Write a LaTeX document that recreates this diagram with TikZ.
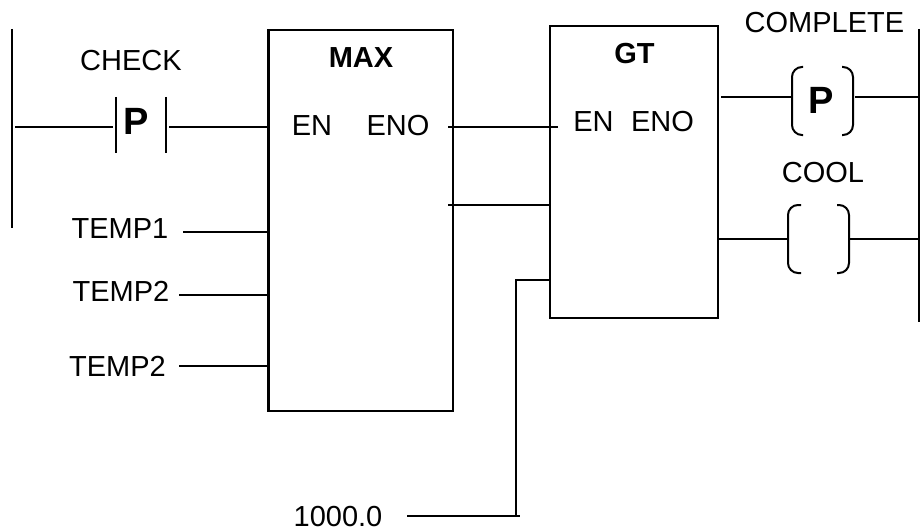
\documentclass[tikz,border=0pt]{standalone}
\usepackage{fontspec}
\setmainfont{Liberation Sans}
\begin{document}
\begin{tikzpicture}[x=1pt,y=-1pt,
  wire/.style={line width=2pt,black},
  thick line/.style={line width=2.6pt,black},
  lbl/.style={font=\fontsize{29}{32}\selectfont,inner sep=0pt,anchor=center},
  blbl/.style={font=\fontsize{29}{32}\selectfont\bfseries,inner sep=0pt,anchor=center},
  bigp/.style={font=\fontsize{38}{42}\selectfont\bfseries,inner sep=0pt,anchor=center},
  fblock/.style={draw,line width=2.4pt,inner sep=0pt}]
\useasboundingbox (0,0) rectangle (920,532);
\fill[white] (0,0) rectangle (920,532);
% rails
\coordinate (railLt) at (12,29); \coordinate (railLb) at (12,228);
\coordinate (railRt) at (919,29); \coordinate (railRb) at (919,322);
\draw[thick line] (railLt) -- (railLb);
\draw[thick line] (railRt) -- (railRb);
% blocks
\node[fblock,minimum width=184.4pt,minimum height=381pt] (max) at (360.6,220.5) {};
\node[fblock,minimum width=168pt,minimum height=292pt] (gt) at (633.7,172) {};
\node[blbl] (maxT) at (361,58) {MAX};
\node[blbl] (gtT) at (634.5,54) {GT};
\node[lbl] (en1) at (312,125.5) {EN};
\node[lbl] (eno1) at (398,125.5) {ENO};
\node[lbl] (en2) at (593.5,121.5) {EN};
\node[lbl] (eno2) at (662.5,121.5) {ENO};
% contact
\node[lbl] (check) at (131,60.5) {CHECK};
\node[bigp] (p1) at (136.5,121.5) {P};
\coordinate (c1l) at (116,127); \coordinate (c1r) at (166,127);
\draw[wire] (116,97) -- (c1l) -- (116,153);
\draw[wire] (166,97) -- (c1r) -- (166,153);
\coordinate (w1a) at (15,127); \coordinate (w1b) at (113,127);
\coordinate (w1c) at (169,127); \coordinate (w1d) at (268,127);
\draw[wire] (w1a) -- (w1b);
\draw[wire] (w1c) -- (w1d);
% inputs
\node[lbl] (t1) at (120,228.5) {TEMP1};
\node[lbl] (t2) at (121,291.5) {TEMP2};
\node[lbl] (t3) at (117.5,366.5) {TEMP2};
\coordinate (t1e) at (183,231.7); \coordinate (m1) at (267,231.7);
\coordinate (t2e) at (179,295); \coordinate (m2) at (268,295);
\coordinate (t3e) at (179,365.7); \coordinate (m3) at (268,365.7);
\draw[wire] (t1e) -- (m1);
\draw[wire] (t2e) -- (m2);
\draw[wire] (t3e) -- (m3);
% links
\coordinate (l1a) at (448,127); \coordinate (l1b) at (558,127);
\coordinate (l2a) at (448,205); \coordinate (l2b) at (550,205);
\draw[wire] (l1a) -- (l1b);
\draw[wire] (l2a) -- (l2b);
\node[lbl] (k) at (338,516.5) {1000.0};
\coordinate (ka) at (407,515.7); \coordinate (kb) at (520,515.7);
\coordinate (kc) at (516,280); \coordinate (kd) at (550,280);
\draw[wire] (ka) -- (kb);
\draw[wire] (516,515.7) -- (kc) -- (kd);
% coils
\node[lbl] (comp) at (824.5,22.5) {COMPLETE};
\node[bigp] (p2) at (821,100.5) {P};
\coordinate (c2a) at (721,97.3); \coordinate (c2b) at (792,97.3);
\coordinate (c2c) at (855,97.3); \coordinate (c2d) at (919,97.3);
\draw[wire] (c2a) -- (c2b);
\draw[wire] (c2c) -- (c2d);
\draw[wire,rounded corners=10pt] (803,67) -- (792,67) -- (792,135) -- (803,135);
\draw[wire,rounded corners=10pt] (842,67) -- (853,67) -- (853,135) -- (842,135);
\node[lbl] (cool) at (823,172.5) {COOL};
\coordinate (c3a) at (718,239); \coordinate (c3b) at (788,239);
\coordinate (c3c) at (850,239); \coordinate (c3d) at (919,239);
\draw[wire] (c3a) -- (c3b);
\draw[wire] (c3c) -- (c3d);
\draw[wire,rounded corners=10pt] (801,205) -- (788,205) -- (788,273) -- (801,273);
\draw[wire,rounded corners=10pt] (837,205) -- (849,205) -- (849,273) -- (837,273);
\end{tikzpicture}
\end{document}
